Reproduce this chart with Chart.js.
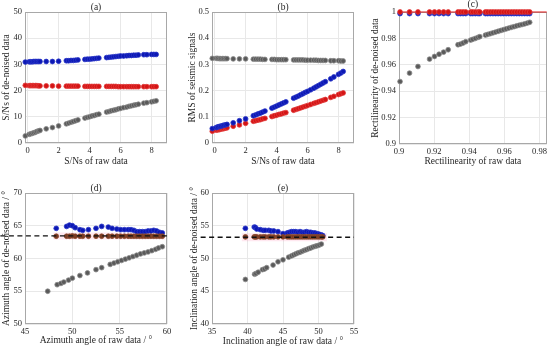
<!DOCTYPE html>
<html>
<head>
<meta charset="utf-8">
<script src="https://cdn.jsdelivr.net/npm/chart.js@4.4.0/dist/chart.umd.min.js"></script>
<style>
  body { margin: 0; background: #fff; }
  #wrap { position: relative; width: 550px; height: 351px; overflow: hidden; }
  canvas { position: absolute; }
</style>
</head>
<body>
<div id="wrap">
  <canvas id="pa" width="180" height="175" style="left:0;top:0"></canvas>
  <canvas id="pb" width="190" height="175" style="left:180px;top:0"></canvas>
  <canvas id="pc" width="190" height="175" style="left:360px;top:0"></canvas>
  <canvas id="pd" width="180" height="176" style="left:0;top:175px"></canvas>
  <canvas id="pe" width="190" height="176" style="left:180px;top:175px"></canvas>
</div>
<script>
// (a) + (b): S/N of raw data on x
const snrRaw = [-0.15, 0.1, 0.2, 0.3, 0.4, 0.5, 0.6, 0.7, 0.8, 1.2, 1.6, 2.0, 2.5, 2.65, 2.8, 2.95, 3.1, 3.25,
  3.7, 3.85, 4.0, 4.15, 4.3, 4.45, 4.6, 5.1, 5.25, 5.4, 5.55, 5.7, 5.85, 6.0, 6.2, 6.4, 6.55, 6.7, 6.85,
  7.0, 7.15, 7.5, 7.7, 8.0, 8.15, 8.3];
const snrGray = [2.7, 3.3, 3.5, 3.7, 3.9, 4.1, 4.4, 4.6, 4.8, 5.4, 5.9, 6.5, 7.3, 7.6, 7.9, 8.2, 8.5, 8.8,
  9.5, 9.8, 10.0, 10.3, 10.5, 10.8, 11.0, 11.8, 12.0, 12.3, 12.5, 12.7, 13.0, 13.2, 13.5, 13.7, 14.0, 14.2, 14.4,
  14.6, 14.8, 15.2, 15.4, 15.7, 15.9, 16.1];
const snrBlue = [30.9, 31.0, 31.0, 31.0, 31.1, 31.1, 31.1, 31.1, 31.1, 31.1, 31.1, 31.2, 31.4, 31.4, 31.5, 31.5, 31.6, 31.7,
  31.9, 32.0, 32.0, 32.1, 32.2, 32.3, 32.4, 32.6, 32.7, 32.8, 32.9, 33.0, 33.1, 33.2, 33.2, 33.3, 33.4, 33.4, 33.5,
  33.5, 33.6, 33.7, 33.7, 33.8, 33.8, 33.8];
const snrRed = [22.0, 21.9, 21.9, 21.9, 21.9, 21.9, 21.9, 21.8, 21.8, 21.8, 21.8, 21.7, 21.7, 21.7, 21.7, 21.7, 21.7, 21.7,
  21.6, 21.6, 21.6, 21.6, 21.6, 21.6, 21.6, 21.6, 21.6, 21.6, 21.6, 21.6, 21.5, 21.5, 21.5, 21.5, 21.5, 21.5, 21.5,
  21.5, 21.5, 21.5, 21.5, 21.5, 21.5, 21.5];
const rmsGray = [0.323, 0.323, 0.323, 0.322, 0.322, 0.322, 0.322, 0.322, 0.322, 0.321, 0.321, 0.321, 0.320, 0.320, 0.320, 0.320, 0.319, 0.319,
  0.319, 0.319, 0.318, 0.318, 0.318, 0.318, 0.318, 0.317, 0.317, 0.317, 0.317, 0.317, 0.316, 0.316, 0.316, 0.316, 0.316, 0.315, 0.315,
  0.315, 0.315, 0.314, 0.314, 0.314, 0.313, 0.313];
const rmsBlue = [0.055, 0.059, 0.061, 0.063, 0.064, 0.066, 0.068, 0.069, 0.071, 0.077, 0.085, 0.092, 0.104, 0.107, 0.111, 0.114, 0.118, 0.122,
  0.133, 0.137, 0.141, 0.145, 0.149, 0.153, 0.157, 0.171, 0.175, 0.179, 0.184, 0.188, 0.193, 0.197, 0.203, 0.209, 0.214, 0.219, 0.224,
  0.229, 0.234, 0.245, 0.252, 0.262, 0.267, 0.273];
const rmsRed = [0.045, 0.049, 0.050, 0.051, 0.053, 0.054, 0.055, 0.057, 0.058, 0.064, 0.069, 0.075, 0.083, 0.085, 0.087, 0.089, 0.092, 0.094,
  0.101, 0.104, 0.106, 0.109, 0.111, 0.114, 0.116, 0.125, 0.128, 0.131, 0.134, 0.137, 0.140, 0.143, 0.147, 0.151, 0.154, 0.157, 0.160,
  0.163, 0.166, 0.174, 0.178, 0.185, 0.188, 0.191];

// (c) rectilinearity
const recRaw = [0.9006, 0.906, 0.9108, 0.9174, 0.9202, 0.9228, 0.9254, 0.928, 0.9336, 0.935, 0.9365, 0.938, 0.9408, 0.942,
  0.9435, 0.945, 0.946, 0.9492, 0.9505, 0.952, 0.9535, 0.955, 0.9565, 0.958, 0.9595, 0.961, 0.9625, 0.964, 0.9655,
  0.967, 0.9685, 0.970, 0.9715, 0.973, 0.9744];
const recGray = [0.9473, 0.9537, 0.9587, 0.9643, 0.9663, 0.968, 0.9696, 0.9714, 0.9752, 0.9757, 0.9765, 0.9775, 0.9787, 0.9793,
  0.98, 0.9808, 0.9813, 0.9825, 0.983, 0.9836, 0.9842, 0.9848, 0.9854, 0.986, 0.9866, 0.9872, 0.9878, 0.9884, 0.9889,
  0.9895, 0.99, 0.9905, 0.991, 0.9916, 0.9922];
const recBlue = recRaw.map(() => 0.9988);
const recRed = recRaw.map(() => 1.0);

// (d) azimuth
const aziX = [48.3, 49.4, 49.7, 50.0, 50.3, 50.8, 51.1, 51.7, 52.5, 53.1, 53.8, 54.2, 54.7, 55.1, 55.5, 55.9, 56.2, 56.5,
  56.8, 57.1, 57.4, 57.7, 58.0, 58.3, 58.6, 58.9, 59.2, 59.5];
const aziBlue = [64.6, 64.9, 65.1, 65.0, 64.7, 64.4, 64.3, 64.4, 64.6, 64.9, 64.8, 64.6, 64.5, 64.4, 64.4, 64.4, 64.4, 64.3,
  64.1, 64.1, 64.1, 64.1, 64.2, 64.2, 64.3, 64.2, 64.0, 63.9];
const aziRed = [63.4, 63.4, 63.4, 63.45, 63.4, 63.4, 63.4, 63.4, 63.4, 63.4, 63.4, 63.4, 63.4, 63.4, 63.4, 63.4, 63.4, 63.4,
  63.4, 63.4, 63.4, 63.4, 63.4, 63.4, 63.4, 63.4, 63.4, 63.4];
const aziGrayX = [47.4, 48.4, 48.8, 49.1, 49.6, 50.0, 50.8, 51.6, 52.5, 53.1, 54.0, 54.4, 54.8, 55.2, 55.6, 56.0, 56.4,
  56.8, 57.2, 57.6, 58.0, 58.4, 58.8, 59.1, 59.5];
const aziGray = [55.0, 56.0, 56.2, 56.4, 56.7, 57.0, 57.4, 57.8, 58.3, 58.6, 59.1, 59.3, 59.5, 59.7, 59.9, 60.1, 60.3,
  60.5, 60.7, 60.85, 61.0, 61.2, 61.4, 61.6, 61.8];
const aziTrue = 63.45;

// (e) inclination
const incX = [39.7, 40.95, 41.1, 41.3, 41.8, 42.2, 42.5, 43.0, 43.3, 43.7, 44.3, 45.0, 45.6, 45.9, 46.2, 46.5, 46.8,
  47.1, 47.4, 47.7, 48.0, 48.3, 48.6, 48.9, 49.2, 49.5, 49.8, 50.1, 50.4, 50.6];
const incBlue = [54.6, 54.8, 54.75, 54.5, 54.4, 54.3, 54.3, 54.3, 54.2, 54.2, 54.1, 53.8, 53.9, 54.0, 54.1, 54.1, 54.1,
  54.0, 54.1, 54.0, 54.0, 54.1, 54.0, 54.0, 53.9, 53.9, 53.8, 53.7, 53.6, 53.5];
const incRed = incX.map(() => 53.3);
const incGrayX = [39.7, 41.0, 41.2, 41.5, 42.1, 42.4, 42.7, 43.6, 44.3, 45.0, 45.8, 46.2, 46.5, 46.8, 47.1, 47.4, 47.7,
  48.0, 48.3, 48.6, 48.9, 49.2, 49.5, 49.8, 50.1, 50.4];
const incGray = [46.8, 47.6, 47.7, 47.9, 48.3, 48.4, 48.6, 49.0, 49.5, 49.8, 50.2, 50.4, 50.55, 50.7, 50.85, 50.95, 51.1,
  51.25, 51.35, 51.5, 51.6, 51.75, 51.85, 51.95, 52.05, 52.2];
const incTrue = 53.25;

const serif = '"Liberation Serif", "Times New Roman", serif';
const ink = '#262626';
const GRAY = ['#5a5a5a', '#8c8c8c'];
const BLUE = ['#0c18b4', '#2a36c8'];
const RED = ['#d41414', '#e23a3a'];
const BROWN = ['#7a3a22', '#8c4a30'];

let pts = (xs, ys) => xs.map((x, i) => ({ x: x, y: ys[i] }));

let dots = (data, col, order) => ({
  type: 'scatter',
  data: data,
  backgroundColor: col[0],
  borderColor: col[1],
  borderWidth: 0.8,
  pointRadius: 2.4,
  pointHoverRadius: 2.4,
  clip: false,
  order: order,
});

let flat = (x0, x1, y, color, width, dash, order) => ({
  type: 'line',
  data: [{ x: x0, y: y }, { x: x1, y: y }],
  borderColor: color,
  borderWidth: width,
  borderDash: dash,
  pointRadius: 0,
  clip: false,
  order: order,
});

let fmt = v => String(+v.toFixed(3));

// draws the full axes box and the panel letter
const boxPlugin = {
  id: 'box',
  beforeDatasetsDraw(chart) {
    const { ctx, chartArea: a } = chart;
    ctx.save();
    ctx.strokeStyle = '#a8a8a8';
    ctx.lineWidth = 1;
    ctx.strokeRect(Math.round(a.left) + 0.5, Math.round(a.top) + 0.5,
      Math.round(a.width) - 1, Math.round(a.height) - 1);
    ctx.restore();
  },
  afterDraw(chart, args, opts) {
    const { ctx, chartArea: a } = chart;
    ctx.save();
    ctx.fillStyle = ink;
    ctx.font = '9.5px ' + serif;
    ctx.textAlign = 'center';
    ctx.textBaseline = 'bottom';
    ctx.fillText(opts.label, (a.left + a.right) / 2, a.top + (opts.dy || 0));
    ctx.restore();
  },
};

let axis = (min, max, step, title, size, vertical) => ({
  type: 'linear',
  min: min,
  max: max,
  ticks: {
    stepSize: step,
    includeBounds: false,
    padding: 3,
    color: ink,
    font: { family: serif, size: 8.5 },
    callback: fmt,
  },
  grid: { color: '#e8e8e8', drawTicks: false, lineWidth: 1 },
  border: { display: false },
  title: {
    display: true,
    text: title,
    color: ink,
    padding: 1,
    font: { family: serif, size: 9.5 },
  },
  afterFit: s => {
    if (vertical) s.width = size; else s.height = size;
  },
});

let panel = (id, label, datasets, xa, ya, pad, labelDy) => {
  return new Chart(document.getElementById(id), {
    type: 'scatter',
    data: { datasets: datasets },
    options: {
      responsive: false,
      animation: false,
      events: [],
      layout: { autoPadding: false, padding: pad },
      scales: { x: xa, y: ya },
      plugins: {
        legend: { display: false },
        tooltip: { enabled: false },
        box: { label: label, dy: labelDy },
      },
    },
    plugins: [boxPlugin],
  });
};

panel('pa', '(a)', [
  dots(pts(snrRaw, snrBlue), BLUE, 1),
  dots(pts(snrRaw, snrRed), RED, 1),
  dots(pts(snrRaw, snrGray), GRAY, 1),
],
  axis(-0.17, 9, 2, 'S/Ns of raw data', 25, false),
  axis(0, 50, 10, 'S/Ns of de-noised data', 25, true),
  { left: 0, top: 12, right: 13, bottom: 7 }, 0);

panel('pb', '(b)', [
  dots(pts(snrRaw, rmsGray), GRAY, 1),
  dots(pts(snrRaw, rmsBlue), BLUE, 1),
  dots(pts(snrRaw, rmsRed), RED, 1),
],
  axis(-0.17, 9, 2, 'S/Ns of raw data', 25, false),
  axis(0, 0.5, 0.1, 'RMS of seismic signals', 26, true),
  { left: 6, top: 12, right: 16, bottom: 7 }, 0);

panel('pc', '(c)', [
  flat(0.9, 0.9841, 1, '#e01818', 1, [], 3),
  dots(pts(recRaw, recRed), RED, 1),
  dots(pts(recRaw, recBlue), BLUE, 2),
  dots(pts(recRaw, recGray), GRAY, 2),
],
  axis(0.9, 0.9841, 0.02, 'Rectilinearity of raw data', 24, false),
  axis(0.9, 1, 0.02, 'Rectilinearity of de-noised data', 30, true),
  { left: 9, top: 12, right: 1, bottom: 7 }, -3);

panel('pd', '(d)', [
  flat(42.4, 60, aziTrue, '#111111', 1.4, [5, 3.5], 0),
  flat(48.0, 59.8, aziTrue, 'rgba(255, 90, 150, 0.14)', 7, [], 4),
  dots(pts(aziX, aziRed), BROWN, 1),
  dots(pts(aziX, aziBlue), BLUE, 2),
  dots(pts(aziGrayX, aziGray), GRAY, 2),
],
  axis(45, 60, 5, 'Azimuth angle of raw data / °', 23, false),
  axis(50, 70, 5, 'Azimuth angle of de-noised data / °', 25, true),
  { left: 0, top: 18, right: 13, bottom: 4 }, 0);

panel('pe', '(e)', [
  flat(33.4, 55, incTrue, '#111111', 1.4, [5, 3.5], 0),
  flat(39.2, 51.2, incTrue, 'rgba(255, 90, 150, 0.14)', 8, [], 4),
  dots(pts(incX, incRed), BROWN, 1),
  dots(pts(incX, incBlue), BLUE, 2),
  dots(pts(incGrayX, incGray), GRAY, 2),
],
  axis(35, 55, 5, 'Inclination angle of raw data / °', 24, false),
  axis(40, 60, 5, 'Inclination angle of de-noised data / °', 24, true),
  { left: 8, top: 18, right: 16, bottom: 3 }, 0);
</script>
</body>
</html>
